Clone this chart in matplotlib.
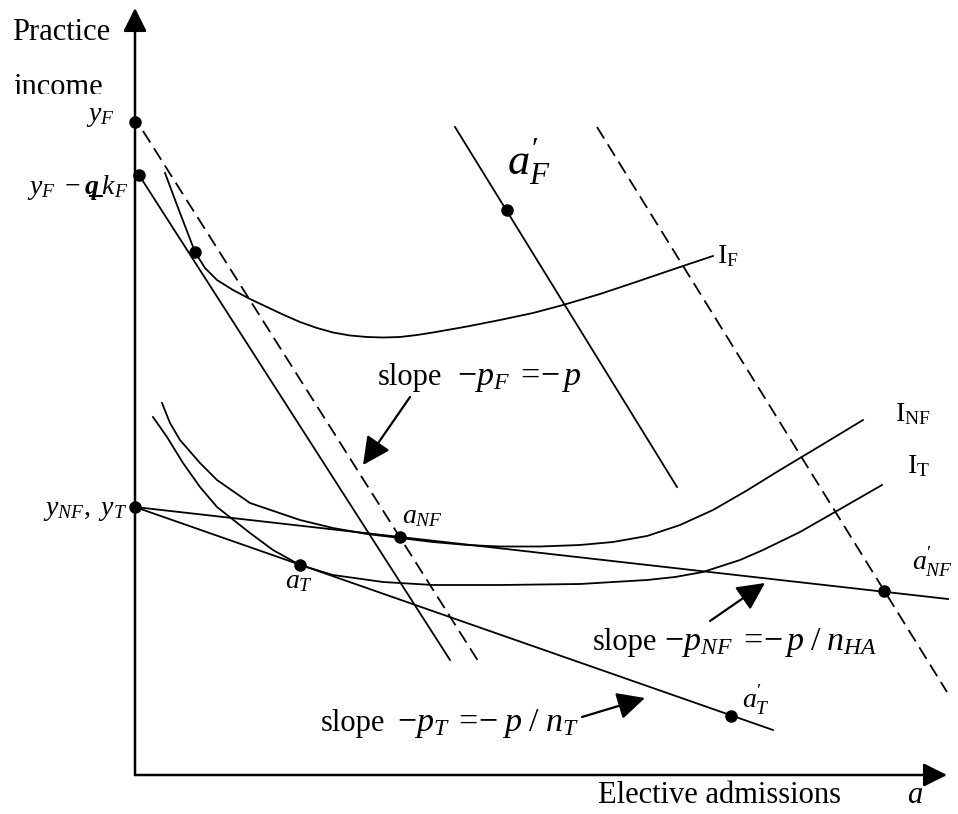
import matplotlib
matplotlib.use('Agg')
import matplotlib.pyplot as plt
from matplotlib.transforms import Bbox

plt.rcParams['font.family'] = ['Liberation Serif', 'DejaVu Serif']
plt.rcParams['mathtext.fontset'] = 'custom'
plt.rcParams['mathtext.rm'] = 'Liberation Serif'
plt.rcParams['mathtext.it'] = 'Liberation Serif:italic'
plt.rcParams['mathtext.bf'] = 'Liberation Serif:bold'
plt.rcParams['mathtext.bfit'] = 'Liberation Serif:italic:bold'

# ---------------- data (diagram units: elective admissions a, practice income y) ----------------
# indifference curves
IF_a = [30, 45, 60, 70, 82, 98, 115, 132, 149, 165, 182, 198, 215, 232, 248, 265, 282, 298,
        332, 365, 398, 428, 465, 498, 548, 578]
IF_y = [602, 562, 523, 507, 495, 485, 476, 468, 460, 453, 447, 442.5, 439.5, 438, 437.5, 438, 440, 442.5,
        448.5, 455, 462, 470, 481, 492, 509, 519]

INF_a = [27, 35, 45, 65, 82, 115, 165, 198, 232, 265, 298, 332, 365, 405, 445, 478, 512, 545, 578,
         611, 645, 690, 728]
INF_y = [372, 352, 335, 312, 295, 272, 255, 247, 241, 237, 233, 230, 228.5, 228.5, 230, 233, 239, 250, 265,
         284, 305, 332, 355]

IT_a = [18, 32, 48, 65, 82, 115, 138, 165, 198, 248, 298, 365, 445, 512, 540, 568, 605, 628, 665, 700, 747]
IT_y = [358, 338, 312, 288, 268, 242, 225, 210, 200, 193, 190, 190, 191, 195, 198, 203, 215, 225, 243, 263, 290]

# budget lines (start, end)
budget_F_dashed_a = [8, 345]
budget_F_dashed_y = [644, 111]
budget_F_solid_a = [4, 315]
budget_F_solid_y = [600, 115]
budget_F_shift_a = [320, 542]
budget_F_shift_y = [648, 288]
budget_F_shift_dashed_a = [462, 812]
budget_F_shift_dashed_y = [648, 83]
budget_NF_a = [0, 813]
budget_NF_y = [268, 176]
budget_T_a = [0, 638]
budget_T_y = [268, 45]

# marked points
points_a = [0, 4, 60, 372, 0, 265, 165, 749, 596]
points_y = [653, 600, 523, 565, 268, 238, 210, 184, 59]

# ---------------- figure ----------------
fig = plt.figure(figsize=(9.58, 8.14), dpi=100)
ax = fig.add_axes([0, 0, 1, 1])
ax.set_xlim(-135, 823)
ax.set_ylim(-39, 775)
ax.axis('off')

LW = 1.3
DASH = (7.5, 3.8)

# axes with arrows
axis_arrow = dict(arrowstyle='-|>,head_length=0.72,head_width=0.36', lw=1.8, color='black',
                  mutation_scale=20, shrinkA=0, shrinkB=0)
ax.annotate('', xy=(0, 767), xytext=(0, 0), arrowprops=axis_arrow)
ax.annotate('', xy=(812, 0), xytext=(0, 0), arrowprops=axis_arrow)

# curves
for xa, ya in [(IF_a, IF_y), (INF_a, INF_y), (IT_a, IT_y)]:
    ax.plot(xa, ya, color='black', lw=LW, solid_joinstyle='round')

ax.plot(budget_F_solid_a, budget_F_solid_y, color='black', lw=LW)
ax.plot(budget_F_shift_a, budget_F_shift_y, color='black', lw=LW)
ax.plot(budget_NF_a, budget_NF_y, color='black', lw=LW)
ax.plot(budget_T_a, budget_T_y, color='black', lw=LW)
ax.plot(budget_F_dashed_a, budget_F_dashed_y, color='black', lw=LW, linestyle=(0, DASH))
ax.plot(budget_F_shift_dashed_a, budget_F_shift_dashed_y, color='black', lw=LW, linestyle=(0, DASH))

ax.plot(points_a, points_y, 'o', color='black', ms=8, zorder=5, clip_on=False)

# pointer arrows
ptr = dict(arrowstyle='-|>,head_length=0.85,head_width=0.42', lw=1.6, color='black',
           mutation_scale=20, shrinkA=0, shrinkB=0)
ax.annotate('', xy=(228, 310), xytext=(275, 378), arrowprops=ptr)
ax.annotate('', xy=(630, 192), xytext=(575, 154), arrowprops=ptr)
ax.annotate('', xy=(510, 77), xytext=(447, 58), arrowprops=ptr)

# ---------------- text ----------------
BIG = 22
MID = 22
MATH = 24.5
LAB = 20

ax.text(-123, 735, 'Practice', fontsize=BIG, va='baseline', ha='left')
t_inc = ax.text(-122, 680, 'income', fontsize=BIG, va='baseline', ha='left')
t_inc.set_clip_box(Bbox.from_extents(0, 814 - 93.5, 958, 814))
t_inc.set_clip_on(True)

ax.text(-20, 654, r'$y_F$', fontsize=LAB, va='baseline', ha='right')
ax.text(-7, 581, '$y_F\\ -\\mathbfit{q\u0332}\\,k_F$', fontsize=LAB, va='baseline', ha='right')
ax.text(372, 600, r"$a^{\prime}_{F}$", fontsize=32, va='baseline', ha='left')
ax.text(582, 512, r'I$_{\mathrm{F}}$', fontsize=LAB, va='baseline', ha='left')
ax.text(760, 354, r'I$_{\mathrm{NF}}$', fontsize=LAB, va='baseline', ha='left')
ax.text(772, 302, r'I$_{\mathrm{T}}$', fontsize=LAB, va='baseline', ha='left')
ax.text(267, 252, r'$a_{NF}$', fontsize=LAB, va='baseline', ha='left')
ax.text(-8, 260, r'$y_{NF},\ y_T$', fontsize=LAB, va='baseline', ha='right')
ax.text(150, 187, r'$a_T$', fontsize=LAB, va='baseline', ha='left')
ax.text(777, 205, r"$a^{\prime}_{NF}$", fontsize=LAB, va='baseline', ha='left')
ax.text(607, 67, r"$a^{\prime}_{T}$", fontsize=LAB, va='baseline', ha='left')

# slope annotations: word + formula
ax.text(243, 390, 'slope', fontsize=MID, va='baseline', ha='left')
ax.text(322, 390, r'$-p_F\;=\!{-}\,p$', fontsize=MATH, va='baseline', ha='left')
ax.text(458, 125, 'slope', fontsize=MID, va='baseline', ha='left')
ax.text(529, 125, r'$-p_{NF}\;=\!{-}\,p\;/\;n_{HA}$', fontsize=MATH, va='baseline', ha='left')
ax.text(186, 44, 'slope', fontsize=MID, va='baseline', ha='left')
ax.text(262, 44, r'$-p_T\;=\!{-}\;p\;/\;n_T$', fontsize=MATH, va='baseline', ha='left')

ax.text(463, -28, 'Elective admissions', fontsize=BIG, va='baseline', ha='left')
ax.text(772, -28, r'$a$', fontsize=BIG, va='baseline', ha='left')

fig.savefig('out.png', dpi=100)
